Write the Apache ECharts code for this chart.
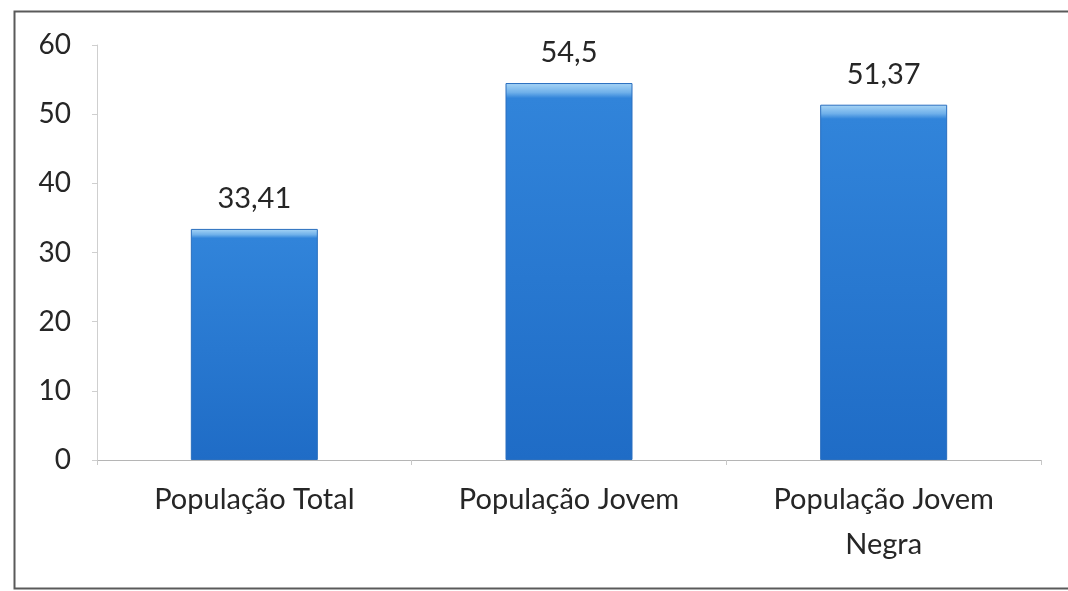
<!DOCTYPE html>
<html>
<head>
<meta charset="utf-8">
<script src="https://cdn.jsdelivr.net/npm/echarts@6/dist/echarts.min.js"></script>
<style>
  html, body { margin: 0; padding: 0; background: #fff; }
  #echart { width: 1068px; height: 591px; }
</style>
</head>
<body>
<div id="echart"></div>
<script type="text/javascript">
// dados
var categorias = ["População Total", "População Jovem", "População Jovem\nNegra"];
var valores = [33.41, 54.5, 51.37];
var yMin = 0;
var yMax = 60;
var yIntervalo = 10;

var chart = echarts.init(document.getElementById("echart"));

chart.setOption({
  animation: false,
  textStyle: { fontFamily: "Lato, 'Open Sans', sans-serif" },
  // moldura em volta do gráfico
  graphic: [
    {
      type: "rect",
      left: 12,
      top: 9,
      shape: { width: 1080, height: 577 },
      style: { fill: "none", stroke: "#5a5a5a", lineWidth: 2 },
      silent: true
    }
  ],
  grid: {
    left: 97,
    right: 27,
    top: 45,
    bottom: 131
  },
  xAxis: {
    type: "category",
    data: categorias,
    axisLine: { lineStyle: { color: "#b5b5b5", width: 1 } },
    axisTick: { show: true, length: 5, lineStyle: { color: "#c8c8c8" } },
    axisLabel: {
      color: "#262626",
      fontSize: 29,
      margin: 17,
      lineHeight: 45,
      interval: 0
    }
  },
  yAxis: {
    type: "value",
    min: yMin,
    max: yMax,
    interval: yIntervalo,
    splitLine: { show: false },
    axisLine: { show: true, lineStyle: { color: "#cfcfcf", width: 1 } },
    axisTick: { show: true, length: 5, lineStyle: { color: "#cfcfcf" } },
    axisLabel: {
      color: "#262626",
      fontSize: 28,
      margin: 26
    }
  },
  series: [
    {
      type: "bar",
      data: valores,
      barWidth: 127,
      itemStyle: {
        color: new echarts.graphic.LinearGradient(0, 0, 0, 1, [
          { offset: 0, color: "#a9d6f6" },
          { offset: 0.025, color: "#6fb0ea" },
          { offset: 0.04, color: "#3184da" },
          { offset: 1, color: "#1f6cc6" }
        ]),
        borderColor: "#2a6fbf",
        borderWidth: 1
      },
      label: {
        show: true,
        position: "top",
        distance: 16,
        color: "#262626",
        fontSize: 29,
        formatter: function (p) {
          return String(p.value).replace(".", ",");
        }
      }
    }
  ]
});
</script>
</body>
</html>
